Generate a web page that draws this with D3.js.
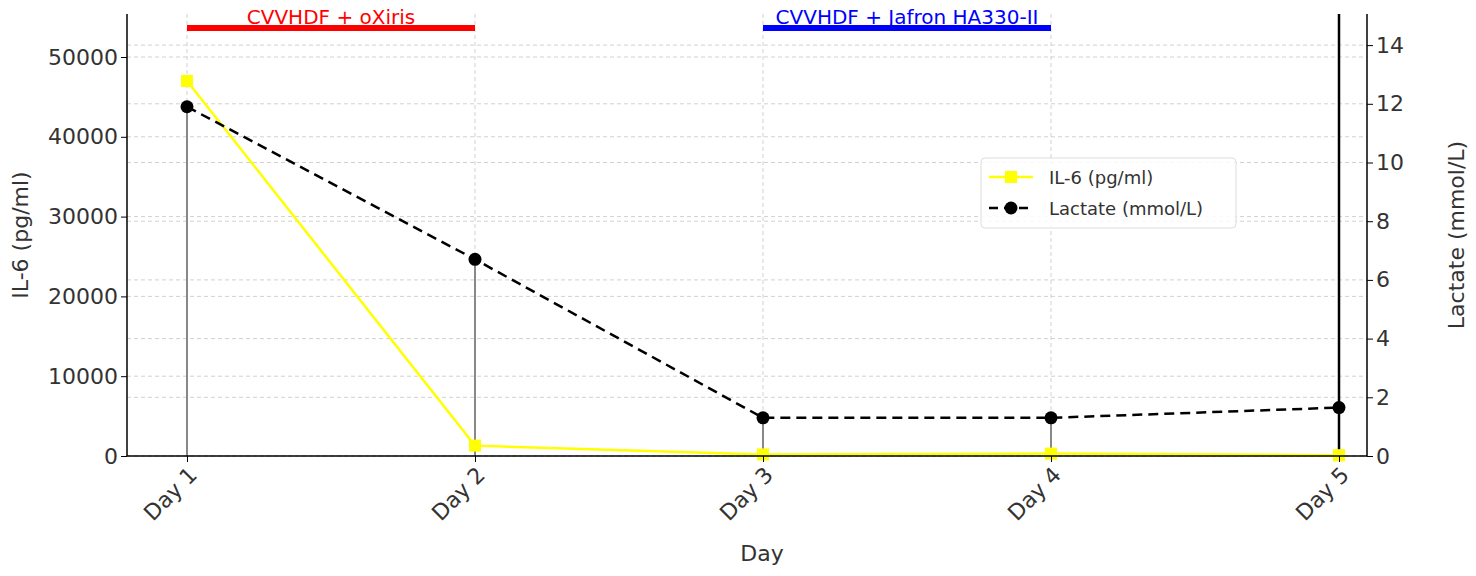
<!DOCTYPE html>
<html><head><meta charset="utf-8">
<script src="https://cdn.jsdelivr.net/npm/d3@7"></script>
<style>body{margin:0;background:#fff}text{font-family:"DejaVu Sans",sans-serif}</style>
</head><body><svg id="c" width="1476" height="576"></svg>
<script>
const days = ["Day 1", "Day 2", "Day 3", "Day 4", "Day 5"];
const il6 = [47000, 1300, 200, 300, 100];
const lactate = [11.9, 6.7, 1.3, 1.3, 1.65];
const il6Ticks = [0, 10000, 20000, 30000, 40000, 50000];
const lacTicks = [0, 2, 4, 6, 8, 10, 12, 14];
const therapies = [
  {label: "CVVHDF + oXiris", from: 0, to: 1, color: "#ff0000"},
  {label: "CVVHDF + Jafron HA330-II", from: 2, to: 3, color: "#0000ff"}
];

const svg = d3.select("#c");
const m = {left: 127, right: 1367, top: 14, bottom: 456};
const x = d3.scalePoint().domain(d3.range(days.length)).range([187, 1339]);
const yL = d3.scaleLinear().domain([0, 55390]).range([m.bottom, m.top]);
const yR = d3.scaleLinear().domain([0, 15.06]).range([m.bottom, m.top]);

const grid = svg.append("g").attr("stroke", "#ccc").attr("stroke-dasharray", "4,3").attr("stroke-width", 0.9);
il6Ticks.forEach(t => grid.append("line").attr("x1", m.left).attr("x2", m.right).attr("y1", yL(t)).attr("y2", yL(t)));
lacTicks.forEach(t => grid.append("line").attr("x1", m.left).attr("x2", m.right).attr("y1", yR(t)).attr("y2", yR(t)));
days.forEach((d, i) => grid.append("line").attr("x1", x(i)).attr("x2", x(i)).attr("y1", m.top).attr("y2", m.bottom));

// stems to lactate points
days.forEach((d, i) => {
  if (i < days.length - 1)
    svg.append("line").attr("x1", x(i)).attr("x2", x(i)).attr("y1", m.bottom).attr("y2", yR(lactate[i]))
      .attr("stroke", "#888").attr("stroke-width", 2);
});
svg.append("line").attr("x1", x(4)).attr("x2", x(4)).attr("y1", m.top).attr("y2", m.bottom)
  .attr("stroke", "#000").attr("stroke-width", 2.5);

// therapy bars
therapies.forEach(t => {
  svg.append("line").attr("x1", x(t.from)).attr("x2", x(t.to)).attr("y1", 28).attr("y2", 28)
    .attr("stroke", t.color).attr("stroke-width", 6);
  svg.append("text").attr("x", (x(t.from) + x(t.to)) / 2).attr("y", 24).attr("text-anchor", "middle")
    .attr("fill", t.color).attr("font-size", 20).text(t.label);
});

// IL-6 line
svg.append("path").datum(il6).attr("fill", "none").attr("stroke", "#ffff00").attr("stroke-width", 2.5)
  .attr("d", d3.line().x((d, i) => x(i)).y(d => yL(d)));
svg.selectAll(".sq").data(il6).join("rect").attr("x", (d, i) => x(i) - 6).attr("y", d => yL(d) - 6)
  .attr("width", 12).attr("height", 12).attr("fill", "#ffff00");

// Lactate line
svg.append("path").datum(lactate).attr("fill", "none").attr("stroke", "#000").attr("stroke-width", 2.5)
  .attr("stroke-dasharray", "10,6").attr("d", d3.line().x((d, i) => x(i)).y(d => yR(d)));
svg.selectAll(".dot").data(lactate).join("circle").attr("cx", (d, i) => x(i)).attr("cy", d => yR(d))
  .attr("r", 6.5).attr("fill", "#000");

// axes
const fs = "22px";
const gl = svg.append("g").attr("transform", `translate(${m.left},0)`).call(d3.axisLeft(yL).tickValues(il6Ticks).tickFormat(d3.format("d")).tickSize(6).tickSizeOuter(0));
gl.select(".domain").attr("d", `M0,${m.top}V${m.bottom}`).attr("stroke-width", 1.5);
gl.selectAll("text").attr("font-size", fs).attr("fill", "#333");
const gr = svg.append("g").attr("transform", `translate(${m.right},0)`).call(d3.axisRight(yR).tickValues(lacTicks).tickSize(6).tickSizeOuter(0));
gr.select(".domain").attr("d", `M0,${m.top}V${m.bottom}`).attr("stroke-width", 1.5);
gr.selectAll("text").attr("font-size", fs).attr("fill", "#333");
const gb = svg.append("g").attr("transform", `translate(0,${m.bottom})`).call(d3.axisBottom(x).tickFormat(i => days[i]).tickSize(6).tickSizeOuter(0));
gb.select(".domain").attr("d", `M${m.left},0H${m.right}`).attr("stroke-width", 1.5);
gb.selectAll("text").attr("font-size", fs).attr("fill", "#333").attr("text-anchor", "end")
  .attr("transform", "rotate(-45)").attr("dx", "-0.3em").attr("dy", "0.6em");

svg.append("text").attr("x", 762).attr("y", 561).attr("text-anchor", "middle").attr("font-size", fs).attr("fill", "#333").text("Day");
svg.append("text").attr("transform", "translate(28,235) rotate(-90)").attr("text-anchor", "middle").attr("font-size", fs).attr("fill", "#333").text("IL-6 (pg/ml)");
svg.append("text").attr("transform", "translate(1464,235) rotate(-90)").attr("text-anchor", "middle").attr("font-size", fs).attr("fill", "#333").text("Lactate (mmol/L)");

// legend
const lg = svg.append("g").attr("transform", "translate(981,158)");
lg.append("rect").attr("width", 255).attr("height", 70).attr("rx", 4).attr("fill", "#fff").attr("fill-opacity", 0.85).attr("stroke", "#ddd");
lg.append("line").attr("x1", 8).attr("x2", 52).attr("y1", 19).attr("y2", 19).attr("stroke", "#ffff00").attr("stroke-width", 2.5);
lg.append("rect").attr("x", 24).attr("y", 13).attr("width", 12).attr("height", 12).attr("fill", "#ffff00");
lg.append("line").attr("x1", 8).attr("x2", 52).attr("y1", 50).attr("y2", 50).attr("stroke", "#000").attr("stroke-width", 2.5).attr("stroke-dasharray", "9,6");
lg.append("circle").attr("cx", 30).attr("cy", 50).attr("r", 6.5).attr("fill", "#000");
lg.append("text").attr("x", 68).attr("y", 26).attr("font-size", "18px").attr("fill", "#333").text("IL-6 (pg/ml)");
lg.append("text").attr("x", 68).attr("y", 57).attr("font-size", "18px").attr("fill", "#333").text("Lactate (mmol/L)");
</script></body></html>
